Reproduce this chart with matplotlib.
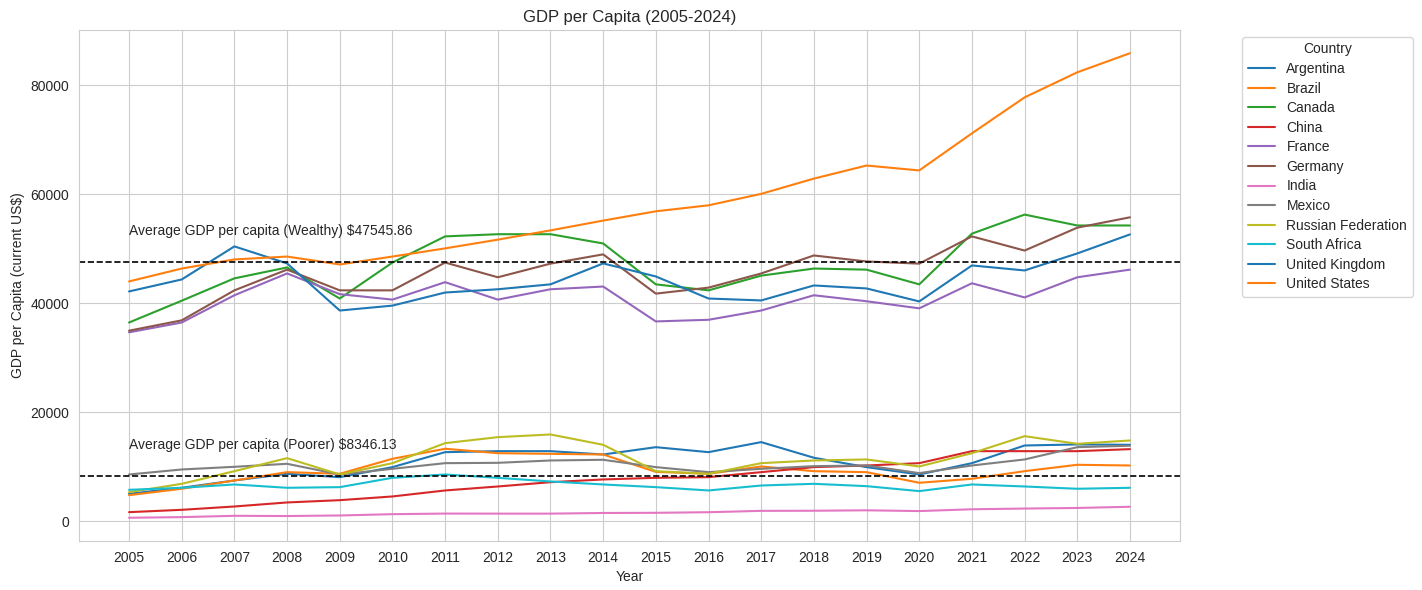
import numpy as np
import pandas as pd
import matplotlib
matplotlib.use("Agg")
import matplotlib.pyplot as plt
import seaborn as sns

# 年份与国家
years = list(range(2005, 2025))

countries = ['Argentina', 'Brazil', 'Canada', 'China', 'France', 'Germany',
             'India', 'Mexico', 'Russian Federation', 'South Africa',
             'United Kingdom', 'United States']

# 人均GDP（现价美元）
argentina = [5080, 6180, 7520, 8750, 8130, 9970, 12720, 12900, 12900, 12290,
             13630, 12720, 14560, 11690, 9970, 8620, 10700, 13940, 14130, 14070]
brazil = [4830, 6000, 7520, 9050, 8750, 11500, 13340, 12530, 12410, 12290,
          9100, 8750, 10090, 9230, 9050, 7100, 7830, 9230, 10400, 10270]
canada = [36500, 40500, 44600, 46600, 40900, 47500, 52300, 52700, 52700, 51000,
          43500, 42400, 45100, 46400, 46200, 43500, 52800, 56300, 54300, 54300]
china = [1710, 2140, 2750, 3490, 3910, 4590, 5690, 6420, 7210, 7710,
         8010, 8130, 9050, 9970, 10270, 10700, 12900, 12900, 12900, 13270]
france = [34700, 36500, 41500, 45500, 41700, 40700, 43900, 40700, 42600, 43100,
          36700, 37000, 38700, 41500, 40400, 39100, 43700, 41100, 44800, 46200]
germany = [35000, 36900, 42400, 46200, 42400, 42400, 47500, 44800, 47300, 49000,
           41800, 42900, 45500, 48800, 47700, 47300, 52300, 49700, 53900, 55800]
india = [680, 800, 1040, 1000, 1100, 1340, 1450, 1440, 1440, 1560,
         1590, 1700, 1950, 1970, 2050, 1910, 2240, 2370, 2480, 2700]
mexico = [8620, 9540, 10030, 10580, 8620, 9660, 10700, 10760, 11190, 11320,
          9970, 9050, 9660, 10150, 10270, 8870, 10270, 11380, 13630, 13900]
russia = [5380, 6910, 9230, 11620, 8620, 10700, 14370, 15470, 15960, 14070,
          9230, 8750, 10700, 11190, 11380, 10090, 12530, 15650, 14250, 14860]
south_africa = [5810, 6180, 6790, 6180, 6300, 8010, 8620, 8010, 7340, 6790,
                6300, 5690, 6600, 6910, 6480, 5570, 6790, 6420, 6000, 6180]
united_kingdom = [42200, 44400, 50460, 47340, 38700, 39600, 42000, 42600, 43500, 47340,
                  44950, 40900, 40550, 43300, 42750, 40370, 46970, 46050, 49170, 52660]
united_states = [44037, 46400, 48073, 48600, 47150, 48600, 50100, 51700, 53400, 55200,
                 56900, 58000, 60100, 62900, 65300, 64400, 71200, 77800, 82400, 85900]

# 平均值（图中标注）
avg_wealthy = 47545.86
avg_poorer = 8346.13


def build_frame():
    series = [argentina, brazil, canada, china, france, germany, india,
              mexico, russia, south_africa, united_kingdom, united_states]
    rows = []
    for name, vals in zip(countries, series):
        for y, v in zip(years, vals):
            rows.append({'Year': y, 'Country': name, 'GDP': v})
    return pd.DataFrame(rows)


def main():
    df = build_frame()
    sns.set_style('whitegrid')
    plt.rcParams['font.family'] = ['Liberation Sans', 'DejaVu Sans']

    fig, ax = plt.subplots(figsize=(14.22, 5.9), dpi=100)
    for name in countries:
        sub = df[df['Country'] == name]
        ax.plot(sub['Year'], sub['GDP'], label=name)

    # 平均线
    ax.axhline(avg_wealthy, color='black', linestyle='--', linewidth=1.2)
    ax.axhline(avg_poorer, color='black', linestyle='--', linewidth=1.2)
    ax.text(years[0], avg_wealthy + 5000,
            f'Average GDP per capita (Wealthy) ${avg_wealthy:.2f}', fontsize=10)
    ax.text(years[0], avg_poorer + 5000,
            f'Average GDP per capita (Poorer) ${avg_poorer:.2f}', fontsize=10)

    ax.set_xticks(years)
    ax.set_title('GDP per Capita (2005-2024)', fontsize=12)
    ax.set_xlabel('Year')
    ax.set_ylabel('GDP per Capita (current US$)')
    ax.legend(title='Country', bbox_to_anchor=(1.05, 1), loc='upper left',
              labelspacing=0.4)

    fig.subplots_adjust(left=79 / 1422, right=1180 / 1422,
                        top=1 - 30 / 590, bottom=1 - 541 / 590)
    plt.savefig('out.png', dpi=100)


if __name__ == "__main__":
    main()
